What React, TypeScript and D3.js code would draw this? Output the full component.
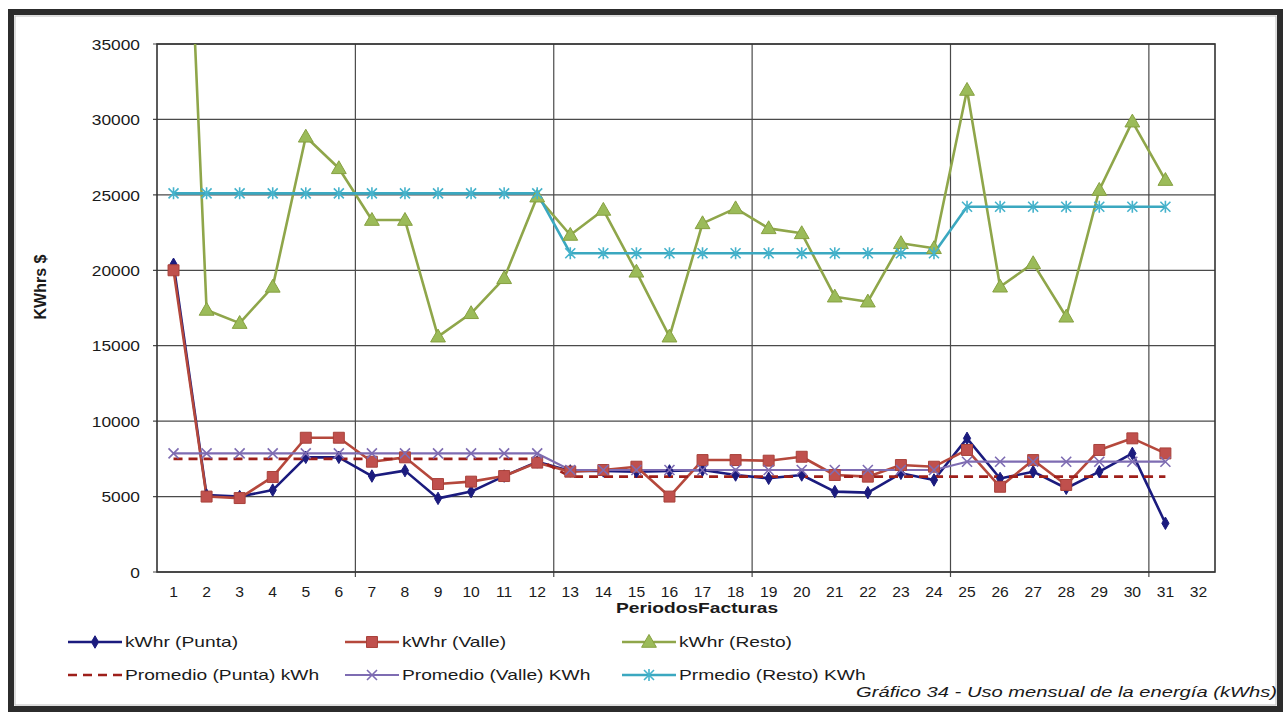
import React from "react";
import * as d3 from "d3";

const periods = [1, 2, 3, 4, 5, 6, 7, 8, 9, 10, 11, 12, 13, 14, 15, 16, 17, 18, 19, 20, 21, 22, 23, 24, 25, 26, 27, 28, 29, 30, 31, 32];
const yTicks = [0, 5000, 10000, 15000, 20000, 25000, 30000, 35000];

const punta = [20400, 5100, 5000, 5430, 7600, 7600, 6360, 6720, 4880, 5330, 6360, 7300, 6700, 6700, 6650, 6700, 6760, 6430, 6210, 6430, 5330, 5260, 6540, 6100, 8860, 6200, 6650, 5550, 6650, 7860, 3230];
const valle = [20000, 5000, 4900, 6300, 8900, 8900, 7310, 7600, 5830, 5990, 6360, 7250, 6650, 6760, 6980, 5000, 7420, 7420, 7380, 7640, 6430, 6320, 7090, 6980, 8090, 5650, 7420, 5770, 8090, 8860, 7860];
const resto = [68000, 17370, 16500, 18900, 28850, 26760, 23330, 23330, 15600, 17150, 19470, 24880, 22340, 24000, 19900, 15600, 23110, 24100, 22780, 22450, 18250, 17920, 21790, 21460, 31950, 18910, 20460, 16920, 25320, 29850, 25980];
const promPunta = [7500, 7500, 7500, 7500, 7500, 7500, 7500, 7500, 7500, 7500, 7500, 7500, 6320, 6320, 6320, 6320, 6320, 6320, 6320, 6320, 6320, 6320, 6320, 6320, 6320, 6320, 6320, 6320, 6320, 6320, 6320];
const promValle = [7860, 7860, 7860, 7860, 7860, 7860, 7860, 7860, 7860, 7860, 7860, 7860, 6760, 6760, 6760, 6760, 6760, 6760, 6760, 6760, 6760, 6760, 6760, 6760, 7310, 7310, 7310, 7310, 7310, 7310, 7310];
const promResto = [25100, 25100, 25100, 25100, 25100, 25100, 25100, 25100, 25100, 25100, 25100, 25100, 21130, 21130, 21130, 21130, 21130, 21130, 21130, 21130, 21130, 21130, 21130, 21130, 24210, 24210, 24210, 24210, 24210, 24210, 24210];

const gridEvery = [6, 12, 18, 24, 30];

type Marker = "diamond" | "square" | "triangle" | "x" | "star" | "none";
interface Series { name: string; values: number[]; color: string; fill: string; width: number; marker: Marker; dash?: string; }

const series: Series[] = [
  { name: "kWhr (Punta)", values: punta, color: "#1b1b7e", fill: "#1b1b7e", width: 2.6, marker: "diamond" },
  { name: "kWhr (Valle)", values: valle, color: "#b5483c", fill: "#c0504d", width: 2.6, marker: "square" },
  { name: "kWhr (Resto)", values: resto, color: "#8fa64a", fill: "#9bbb59", width: 2.6, marker: "triangle" },
  { name: "Promedio (Punta) kWh", values: promPunta, color: "#9e1f1a", fill: "none", width: 2.6, marker: "none", dash: "9,6" },
  { name: "Promedio (Valle) KWh", values: promValle, color: "#7e6cb2", fill: "none", width: 2.2, marker: "x" },
  { name: "Prmedio (Resto) KWh", values: promResto, color: "#3ba8c0", fill: "none", width: 2.6, marker: "star" },
];

const W = 1287, H = 717;
const PL = 157, PR = 1215, PT = 44, PB = 572;
const FONT = "'Liberation Sans', Arial, Helvetica, sans-serif";

function MarkerShape({ m, x, y, color, fill }: { m: Marker; x: number; y: number; color: string; fill: string }) {
  if (m === "none") return null;
  if (m === "diamond") return <path d={d3.symbol(d3.symbolDiamond, 45)()!} transform={`translate(${x},${y})`} fill={fill} stroke={color} strokeWidth={1} />;
  if (m === "square") return <path d={d3.symbol(d3.symbolSquare, 120)()!} transform={`translate(${x},${y})`} fill={fill} stroke="#a8413a" strokeWidth={1} />;
  if (m === "triangle") return <path d={d3.symbol(d3.symbolTriangle, 95)()!} transform={`translate(${x},${y + 1})`} fill={fill} stroke="#86a040" strokeWidth={1} />;
  const s = 5;
  if (m === "x") return <path d={`M${x - s},${y - s}L${x + s},${y + s}M${x - s},${y + s}L${x + s},${y - s}`} stroke={color} strokeWidth={1.6} fill="none" />;
  return <path d={`M${x - s},${y - s}L${x + s},${y + s}M${x - s},${y + s}L${x + s},${y - s}M${x},${y - s - 1}L${x},${y + s + 1}`} stroke="#46b3cc" strokeWidth={1.6} fill="none" />;
}

function Txt({ x, y, size, sx = 1, anchor = "start", weight = "normal", italic = false, rotate = 0, children }: any) {
  return (
    <text transform={`translate(${x},${y}) rotate(${rotate}) scale(${sx},1)`} fontSize={size} fontFamily={FONT} fontWeight={weight}
      fontStyle={italic ? "italic" : "normal"} textAnchor={anchor} dominantBaseline="central" fill="#1a1a1a">{children}</text>
  );
}

export default function App() {
  const xBand = d3.scaleBand<number>().domain(periods).range([PL, PR]).paddingInner(0).paddingOuter(0);
  const bw = xBand.bandwidth();
  const xc = (p: number) => (xBand(p) as number) + bw / 2;
  const y = d3.scaleLinear().domain([0, 35000]).range([PB, PT]);
  const line = d3.line<number>().x((_, i) => xc(periods[i])).y((v) => y(v));

  const legendCols = [68, 345, 622];
  const legendRows = [642, 675];

  return (
    <svg width={W} height={H} style={{ position: "absolute", left: 0, top: 0, display: "block", background: "#fff" }}>
      <defs>
        <clipPath id="plotClip"><rect x={PL} y={PT} width={PR - PL} height={PB - PT} /></clipPath>
      </defs>
      <rect x={0} y={0} width={W} height={H} fill="#fff" />
      <rect x={11} y={12} width={1269} height={697} fill="#fff" stroke="#2c2c2c" strokeWidth={6} />
      <rect x={15} y={16} width={1261} height={689} fill="none" stroke="#bdbdbd" strokeWidth={1} />

      {/* gridlines */}
      {yTicks.map((t) => (
        <line key={"h" + t} x1={PL - 4} x2={PR} y1={y(t)} y2={y(t)} stroke="#4a4a4a" strokeWidth={1.2} />
      ))}
      {gridEvery.map((g) => {
        const gx = (xBand(g) as number) + bw;
        return <line key={"v" + g} x1={gx} x2={gx} y1={PT} y2={PB + 5} stroke="#4a4a4a" strokeWidth={1.2} />;
      })}
      <rect x={PL} y={PT} width={PR - PL} height={PB - PT} fill="none" stroke="#333" strokeWidth={1.6} />

      {/* axis labels */}
      {yTicks.map((t) => (
        <Txt key={"yl" + t} x={140} y={y(t)} size={15.5} sx={1.12} anchor="end">{t}</Txt>
      ))}
      {periods.map((p) => (
        <Txt key={"xl" + p} x={xc(p)} y={592} size={14.5} sx={1.08} anchor="middle">{p}</Txt>
      ))}
      <Txt x={40} y={287} size={16} weight="bold" anchor="middle" rotate={-90}>KWhrs $</Txt>
      <Txt x={697} y={608} size={15} sx={1.28} weight="bold" anchor="middle">PeriodosFacturas</Txt>

      {/* series */}
      <g clipPath="url(#plotClip)">
        {series.map((s) => (
          <path key={s.name} d={line(s.values)!} fill="none" stroke={s.color} strokeWidth={s.width} strokeDasharray={s.dash} strokeLinejoin="round" />
        ))}
        {series.map((s) => (
          <g key={s.name + "m"}>
            {s.values.map((v, i) => (
              <MarkerShape key={i} m={s.marker} x={xc(periods[i])} y={y(v)} color={s.color} fill={s.fill} />
            ))}
          </g>
        ))}
      </g>

      {/* legend */}
      {series.map((s, i) => {
        const lx = legendCols[i % 3];
        const ly = legendRows[Math.floor(i / 3)];
        return (
          <g key={"lg" + i}>
            <line x1={lx} x2={lx + 54} y1={ly} y2={ly} stroke={s.color} strokeWidth={s.width} strokeDasharray={s.dash} />
            <MarkerShape m={s.marker} x={lx + 27} y={ly} color={s.color} fill={s.fill} />
            <Txt x={lx + 57} y={ly} size={15} sx={1.28}>{s.name}</Txt>
          </g>
        );
      })}

      <Txt x={1277} y={692} size={15.5} sx={1.3} italic anchor="end">Gráfico 34 - Uso mensual de la energía (kWhs)</Txt>
    </svg>
  );
}
